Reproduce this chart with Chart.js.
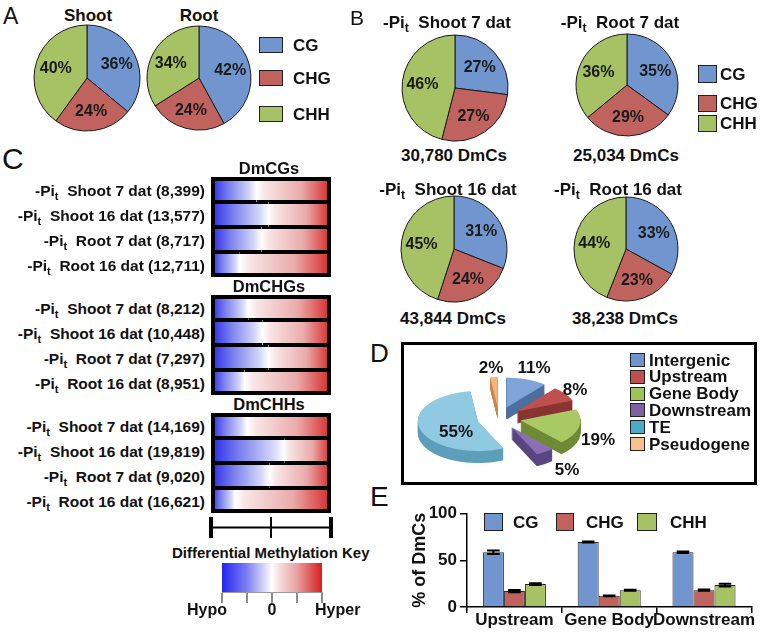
<!DOCTYPE html>
<html>
<head>
  <meta charset="UTF-8">
  <script src="https://cdn.jsdelivr.net/npm/chart.js"></script>
  <style>
    body { margin: 0; background: #fff; }
    #fig { position: relative; width: 762px; height: 632px; overflow: hidden; background: #fff; color: #111; }
    #fig canvas { position: absolute; }
    .lbl { position: absolute; white-space: nowrap; }
    .lbl sub { font-size: 72%; vertical-align: -0.35em; line-height: 0; }
    .sw { position: absolute; border: 1.5px solid #222; box-sizing: border-box; }
  </style>
</head>
<body>
<div id="fig"></div>

<script>
  // ---- data ----
  const contexts = ['CG', 'CHG', 'CHH']
  const contextColors = ['#7196cf', '#c0625e', '#a6c264']

  // A: all DmCs, share of each context (%)
  const tissues = ['Shoot', 'Root']
  const shootAll = [36, 24, 40]
  const rootAll = [42, 24, 34]

  // B: per sample
  const samplesB = ['Shoot 7 dat', 'Root 7 dat', 'Shoot 16 dat', 'Root 16 dat']
  const dmcTotals = ['30,780', '25,034', '43,844', '38,238']
  const shoot7Pct = [27, 27, 46]
  const root7Pct = [35, 29, 36]
  const shoot16Pct = [31, 24, 45]
  const root16Pct = [33, 23, 44]

  // C: heatmap rows, site counts and where blue (hypo) turns into red (hyper), % of row
  const heatRows = ['Shoot 7 dat', 'Shoot 16 dat', 'Root 7 dat', 'Root 16 dat']
  const cgCounts = ['8,399', '13,577', '8,717', '12,711']
  const chgCounts = ['8,212', '10,448', '7,297', '8,951']
  const chhCounts = ['14,169', '19,819', '9,020', '16,621']
  const cgHypo = [38, 48, 42, 24]
  const chgHypo = [31, 43, 48, 28]
  const chhHypo = [30, 61, 49, 20]
  const keyTicks = [-1, -0.5, 0, 0.5, 1]

  // D: genomic regions (%)
  const regions = ['Intergenic', 'Upstream', 'Gene Body', 'Downstream', 'TE', 'Pseudogene']
  const regionPct = [11, 8, 19, 5, 55, 2]
  const regionKey = ['#6f93cd', '#c0504d', '#9fc25a', '#7c62a4', '#4eabc8', '#f8c08f']
  const regionTops = ['#7fa4da', '#c0504d', '#a9c964', '#8a70b2', '#8fc9e2', '#f3b57c']
  const regionSides = ['#4d6f9f', '#8a3533', '#6f8a35', '#5a4680', '#5d9fbb', '#c88a4f']

  // E: share of DmCs in gene parts (%)
  const geneParts = ['Upstream', 'Gene Body', 'Downstream']
  const cgShare = [58.5, 69.5, 58.5]
  const chgShare = [17, 12, 18]
  const chhShare = [24.5, 18, 23.5]
  const cgErr = [1.8, 0.6, 0.8]
  const chgErr = [1.2, 0.4, 0.7]
  const chhErr = [1, 0.5, 1.5]

  // ---- helpers ----
  const fig = document.getElementById('fig')
  const FONT = '"Liberation Sans", Arial, Helvetica, sans-serif'
  Chart.defaults.font.family = FONT
  Chart.defaults.color = '#111'
  Chart.defaults.animation = false
  Chart.defaults.responsive = false
  Chart.defaults.events = []
  Chart.defaults.plugins.legend.display = false
  Chart.defaults.plugins.tooltip.enabled = false

  function addText(html, x, y, size, align, weight) {
    const el = document.createElement('div')
    el.className = 'lbl'
    el.innerHTML = html
    el.style.font = (weight || 'bold') + ' ' + size + 'px ' + FONT
    el.style.lineHeight = size + 'px'
    el.style.top = (y - size / 2) + 'px'
    if (align === 'center') {
      el.style.left = (x - 150) + 'px'
      el.style.width = '300px'
      el.style.textAlign = 'center'
    } else if (align === 'right') {
      el.style.right = (762 - x) + 'px'
    } else {
      el.style.left = x + 'px'
    }
    fig.appendChild(el)
    return el
  }

  function addSwatch(color, x, y, w, h) {
    const el = document.createElement('div')
    el.className = 'sw'
    Object.assign(el.style, {left: x + 'px', top: y + 'px', width: w + 'px', height: h + 'px', background: color})
    fig.appendChild(el)
  }

  function addCanvas(x, y, w, h, host) {
    const cv = document.createElement('canvas')
    cv.width = w
    cv.height = h
    Object.assign(cv.style, {left: x + 'px', top: y + 'px', width: w + 'px', height: h + 'px'})
    const parent = host || fig
    parent.appendChild(cv)
    return cv
  }

  // percent text inside pie slices
  const sliceLabels = {
    id: 'sliceLabels',
    afterDatasetsDraw(chart) {
      const ctx = chart.ctx
      const values = chart.data.datasets[0].data
      ctx.save()
      ctx.font = 'bold 16px ' + FONT
      ctx.fillStyle = '#1a1a1a'
      ctx.textAlign = 'center'
      ctx.textBaseline = 'middle'
      chart.getDatasetMeta(0).data.forEach((arc, i) => {
        const p = arc.getProps(['x', 'y', 'startAngle', 'endAngle', 'outerRadius'])
        const mid = (p.startAngle + p.endAngle) / 2
        const r = p.outerRadius * 0.62
        ctx.fillText(values[i] + '%', p.x + Math.cos(mid) * r, p.y + Math.sin(mid) * r + 1)
      })
      ctx.restore()
    }
  }

  function makePie(values, cx, cy, r) {
    const size = Math.ceil(2 * r + 8)
    const cv = addCanvas(cx - size / 2, cy - size / 2, size, size)
    return new Chart(cv, {
      type: 'pie',
      data: {labels: contexts, datasets: [{data: values, backgroundColor: contextColors, borderColor: '#1b1b1b', borderWidth: 1}]},
      options: {radius: r},
      plugins: [sliceLabels]
    })
  }

  // ---- A ----
  addText('A', 3, 16.5, 23, 'left', 'normal')
  addText(tissues[0], 88, 15, 17, 'center')
  addText(tissues[1], 199, 15, 17, 'center')
  makePie(shootAll, 86.5, 77.5, 53)
  makePie(rootAll, 199, 77.5, 52)
  const legA = [37, 70, 106]
  contexts.forEach((name, i) => {
    addSwatch(contextColors[i], 259, legA[i], 24, 16)
    addText(name, 293, legA[i] + 8, 17, 'left')
  })

  // ---- B ----
  addText('B', 350, 17.5, 21, 'left', 'normal')
  const pieB = [
    {vals: shoot7Pct, cx: 455, cy: 88, r: 53, tx: 447, ty: 22, ny: 155},
    {vals: root7Pct, cx: 627, cy: 85, r: 51, tx: 620, ty: 22, ny: 155},
    {vals: shoot16Pct, cx: 454, cy: 249, r: 53, tx: 448, ty: 189, ny: 318},
    {vals: root16Pct, cx: 626, cy: 249, r: 52, tx: 618, ty: 189, ny: 318}
  ]
  pieB.forEach((p, i) => {
    makePie(p.vals, p.cx, p.cy, p.r)
    addText('-Pi<sub>t</sub>&nbsp; ' + samplesB[i], p.tx, p.ty, 17, 'center')
    addText(dmcTotals[i] + ' DmCs', p.cx - 1, p.ny, 17, 'center')
  })
  const legB = [{y: 65, h: 18}, {y: 95, h: 17}, {y: 115, h: 17}]
  contexts.forEach((name, i) => {
    addSwatch(contextColors[i], 698, legB[i].y, 19, legB[i].h)
    addText(name, 720, legB[i].y + legB[i].h / 2, 17, 'left')
  })

  // ---- C ----
  addText('C', 2, 159, 30, 'left', 'normal')

  function heatFill(c, cold) {
    const chart = c.chart
    if (c.type !== 'data' || !chart.chartArea) return cold ? '#8c8cf0' : '#ec9c9c'
    const xs = chart.scales.x
    const g = chart.ctx.createLinearGradient(xs.getPixelForValue(c.raw[0]), 0, xs.getPixelForValue(c.raw[1]), 0)
    if (cold) {
      g.addColorStop(0, 'rgb(40,40,235)')
      g.addColorStop(0.4, 'rgb(125,130,238)')
      g.addColorStop(0.85, 'rgb(212,215,248)')
      g.addColorStop(1, '#ffffff')
    } else {
      g.addColorStop(0, '#ffffff')
      g.addColorStop(0.1, 'rgb(248,230,230)')
      g.addColorStop(0.6, 'rgb(234,170,170)')
      g.addColorStop(1, 'rgb(214,40,40)')
    }
    return g
  }

  const heatFrame = {
    id: 'heatFrame',
    afterDatasetsDraw(chart) {
      const {ctx, chartArea: a} = chart
      ctx.save()
      ctx.strokeStyle = '#000'
      ctx.lineWidth = 4
      ctx.strokeRect(a.left + 2, a.top + 2, a.right - a.left - 4, a.bottom - a.top - 4)
      ctx.restore()
    }
  }

  function makeHeat(hypo, counts, title, top) {
    const left = 211, w = 120, h = 100
    const cv = addCanvas(left, top, w, h)
    const rowBorder = {top: 2, bottom: 2, left: 0, right: 0}
    const chart = new Chart(cv, {
      type: 'bar',
      data: {
        labels: heatRows,
        datasets: [
          {data: hypo.map(v => [0, v]), backgroundColor: c => heatFill(c, true), borderColor: '#000', borderWidth: rowBorder, borderSkipped: false, inflateAmount: 0},
          {data: hypo.map(v => [v, 100]), backgroundColor: c => heatFill(c, false), borderColor: '#000', borderWidth: rowBorder, borderSkipped: false, inflateAmount: 0}
        ]
      },
      options: {
        indexAxis: 'y',
        datasets: {bar: {grouped: false, barPercentage: 1, categoryPercentage: 1}},
        scales: {x: {display: false, min: 0, max: 100}, y: {display: false}}
      },
      plugins: [heatFrame]
    })
    addText(title, left + w / 2 - 2, top - 8.5, 16.5, 'center')
    heatRows.forEach((name, i) => {
      const y = top + chart.scales.y.getPixelForValue(i) + 1.5
      addText('-Pi<sub>t</sub>&nbsp; ' + name + ' (' + counts[i] + ')', 205, y, 15.5, 'right')
    })
  }

  makeHeat(cgHypo, cgCounts, 'DmCGs', 177)
  makeHeat(chgHypo, chgCounts, 'DmCHGs', 295)
  makeHeat(chhHypo, chhCounts, 'DmCHHs', 413)

  // range bar under the heatmaps
  new Chart(addCanvas(207, 517, 128, 21), {
    type: 'scatter',
    data: {datasets: [{data: [{x: 0, y: 0}, {x: 100, y: 0}], showLine: true, borderColor: '#000', borderWidth: 2, pointRadius: 0}]},
    options: {
      layout: {padding: {left: 4, right: 4}},
      scales: {
        x: {
          min: 0, max: 100,
          ticks: {stepSize: 50, display: false},
          border: {display: false},
          grid: {color: '#000', drawTicks: false, lineWidth: c => (c.tick && c.tick.value === 50 ? 2 : 4)},
          afterFit: s => { s.height = 0 }
        },
        y: {min: -1, max: 1, display: false}
      }
    }
  })

  addText('Differential Methylation Key', 172, 552, 15, 'left')

  function keyFill(c) {
    const chart = c.chart
    const a = chart.chartArea
    if (!a) return '#ffffff'
    const g = chart.ctx.createLinearGradient(a.left, 0, a.right, 0)
    g.addColorStop(0, 'rgb(35,35,240)')
    g.addColorStop(0.25, 'rgb(125,128,240)')
    g.addColorStop(0.45, 'rgb(228,229,250)')
    g.addColorStop(0.5, '#ffffff')
    g.addColorStop(0.57, 'rgb(246,222,222)')
    g.addColorStop(0.75, 'rgb(232,160,160)')
    g.addColorStop(1, 'rgb(215,30,30)')
    return g
  }

  new Chart(addCanvas(216, 560, 112, 45), {
    type: 'bar',
    data: {labels: ['key'], datasets: [{data: [[keyTicks[0], keyTicks[keyTicks.length - 1]]], backgroundColor: keyFill, borderWidth: 0}]},
    options: {
      indexAxis: 'y',
      layout: {padding: {left: 6, right: 6, top: 3}},
      datasets: {bar: {barPercentage: 1, categoryPercentage: 1}},
      scales: {
        x: {
          type: 'linear', min: -1, max: 1,
          afterBuildTicks: s => { s.ticks = keyTicks.map(v => ({value: v})) },
          ticks: {display: false},
          grid: {drawOnChartArea: false, color: '#8c8c8c', lineWidth: 2, tickLength: 11},
          border: {color: '#9a9a9a', width: 1},
          afterFit: s => { s.height = 13 }
        },
        y: {display: false}
      }
    }
  })
  addText('Hypo', 207, 610, 16, 'center')
  addText('0', 272, 610, 16, 'center')
  addText('Hyper', 315, 610, 16, 'left')

  // ---- D ----
  addText('D', 370, 352.5, 26, 'left', 'normal')
  const dBox = document.createElement('div')
  Object.assign(dBox.style, {position: 'absolute', left: '401px', top: '342px', width: '356px', height: '143px', border: '3px solid #000', boxSizing: 'border-box'})
  fig.appendChild(dBox)

  // exploded, tilted pie: slices pushed out from the centre, walls drawn underneath
  const pieDepth = {
    id: 'pieDepth',
    afterDatasetsUpdate(chart, args, opts) {
      chart.getDatasetMeta(0).data.forEach(arc => {
        const mid = (arc.startAngle + arc.endAngle) / 2
        arc.x += Math.cos(mid) * opts.explode
        arc.y += Math.sin(mid) * opts.explode
      })
    },
    beforeDatasetsDraw(chart, args, opts) {
      const ctx = chart.ctx
      ctx.save()
      chart.getDatasetMeta(0).data.forEach((arc, i) => {
        ctx.fillStyle = opts.sides[i]
        for (let d = opts.depth; d > 0; d--) {
          ctx.beginPath()
          ctx.moveTo(arc.x, arc.y + d)
          ctx.arc(arc.x, arc.y + d, arc.outerRadius, arc.startAngle, arc.endAngle)
          ctx.closePath()
          ctx.fill()
        }
      })
      ctx.restore()
    }
  }

  const tilt = 0.5
  const wrap = document.createElement('div')
  Object.assign(wrap.style, {position: 'absolute', left: '389px', top: (418 - 110 * tilt) + 'px', width: '220px', height: '240px', transform: 'scaleY(' + tilt + ')', transformOrigin: '0 0'})
  fig.appendChild(wrap)
  new Chart(addCanvas(0, 0, 220, 240, wrap), {
    type: 'pie',
    data: {labels: regions, datasets: [{data: regionPct, backgroundColor: regionTops, borderWidth: 0}]},
    options: {radius: 60, layout: {padding: {bottom: 20}}, plugins: {pieDepth: {depth: 24, explode: 22, sides: regionSides}}},
    plugins: [pieDepth]
  })

  const dLabelPos = [[534, 367], [575, 389], [598, 439], [567, 469], [456, 431], [491, 367]]
  regionPct.forEach((v, i) => {
    addText(v + '%', dLabelPos[i][0], dLabelPos[i][1], 17, 'center')
  })
  regions.forEach((name, i) => {
    const y = 360 + i * 16.8
    addSwatch(regionKey[i], 630, y - 7, 15, 14)
    addText(name, 649, y, 17, 'left')
  })

  // ---- E ----
  addText('E', 370, 497, 28, 'left', 'normal')

  const errBars = {
    id: 'errBars',
    afterDatasetsDraw(chart, args, opts) {
      const ctx = chart.ctx
      const ys = chart.scales.y
      ctx.save()
      ctx.strokeStyle = '#000'
      ctx.lineWidth = 2
      chart.data.datasets.forEach((ds, di) => {
        chart.getDatasetMeta(di).data.forEach((bar, i) => {
          const v = ds.data[i], e = opts.errors[di][i]
          const hi = ys.getPixelForValue(v + e), lo = ys.getPixelForValue(v - e)
          const cap = bar.width * 0.3
          ctx.beginPath()
          ctx.moveTo(bar.x, hi)
          ctx.lineTo(bar.x, lo)
          ctx.moveTo(bar.x - cap, hi)
          ctx.lineTo(bar.x + cap, hi)
          ctx.moveTo(bar.x - cap, lo)
          ctx.lineTo(bar.x + cap, lo)
          ctx.stroke()
        })
      })
      ctx.restore()
    }
  }

  new Chart(addCanvas(405, 495, 357, 137), {
    type: 'bar',
    data: {
      labels: geneParts,
      datasets: [
        {label: contexts[0], data: cgShare, backgroundColor: contextColors[0]},
        {label: contexts[1], data: chgShare, backgroundColor: contextColors[1]},
        {label: contexts[2], data: chhShare, backgroundColor: contextColors[2]}
      ]
    },
    options: {
      layout: {padding: {top: 18.5, right: 10.6, left: 0, bottom: 0}},
      datasets: {bar: {categoryPercentage: 0.665, barPercentage: 1, borderColor: '#2a2a2a', borderWidth: 1}},
      scales: {
        x: {
          grid: {offset: true, drawOnChartArea: false, color: '#000', lineWidth: 1.5, tickLength: 6},
          border: {color: '#000', width: 1.5},
          ticks: {color: '#111', font: {size: 17, weight: 'bold'}, autoSkip: false, maxRotation: 0, padding: -3},
          afterFit: s => { s.height = 25 }
        },
        y: {
          min: 0, max: 100,
          ticks: {stepSize: 50, color: '#111', font: {size: 17, weight: 'bold'}, padding: 3},
          grid: {drawOnChartArea: false, color: '#000', lineWidth: 1.5, tickLength: 7},
          border: {color: '#000', width: 1.5},
          title: {display: true, text: '% of DmCs', color: '#111', font: {size: 18, weight: 'bold'}, padding: {top: 4, bottom: 0}},
          afterFit: s => { s.width = 62 }
        }
      },
      plugins: {errBars: {errors: [cgErr, chgErr, chhErr]}}
    },
    plugins: [errBars]
  })

  const legE = [{sx: 484, w: 19, tx: 513}, {sx: 556, w: 18, tx: 586}, {sx: 637, w: 20, tx: 670}]
  contexts.forEach((name, i) => {
    addSwatch(contextColors[i], legE[i].sx, 513, legE[i].w, 18)
    addText(name, legE[i].tx, 522, 17, 'left')
  })
</script>
</body>
</html>
